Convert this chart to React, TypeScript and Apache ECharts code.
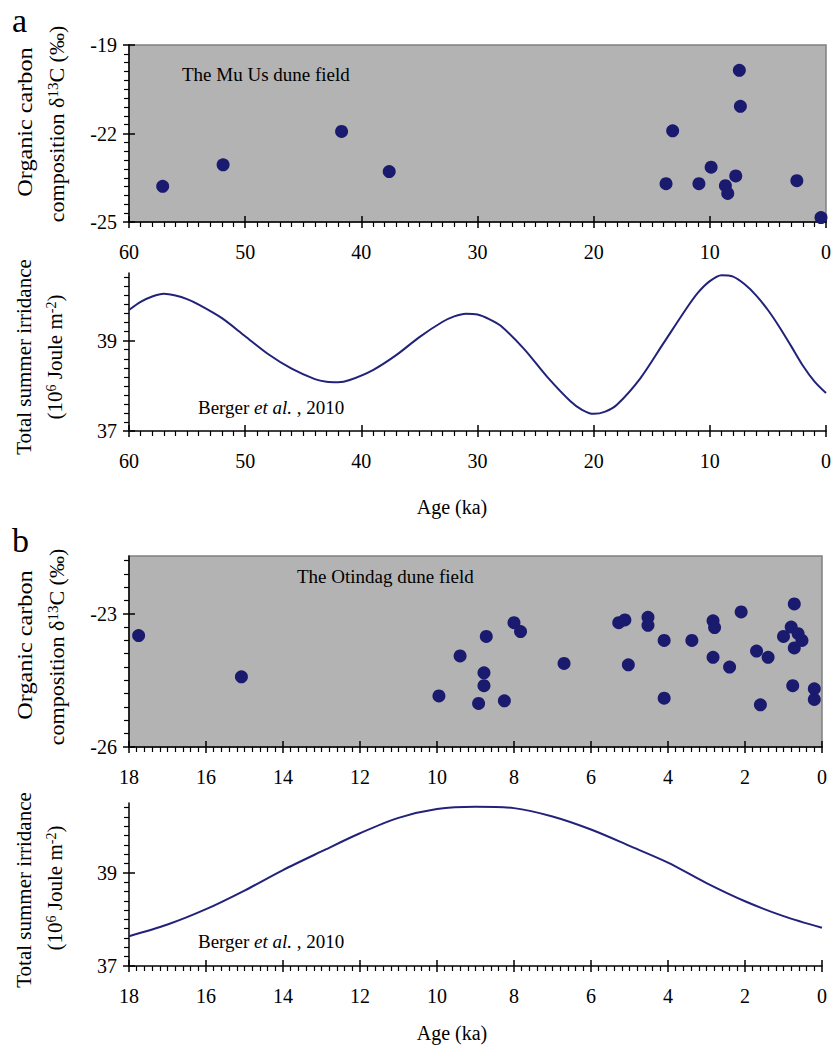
import React, { useEffect, useRef } from "react";
import * as echarts from "echarts";

// ---------- data ----------
// Panel a: Mu Us dune field, organic carbon d13C (‰) vs age (ka)
const muUsAge = [57.1, 51.9, 41.7, 37.6, 13.77, 13.2, 10.94, 9.89, 8.66, 8.46, 7.77, 7.46, 7.37, 2.51, 0.43];
const muUsD13C = [-23.79, -23.06, -21.93, -23.29, -23.7, -21.91, -23.7, -23.14, -23.77, -24.03, -23.44, -19.86, -21.08, -23.6, -24.85];

// Panel a: total summer irradiance (Berger et al., 2010), 0-60 ka
const irrAgeA = [60, 59, 58, 57, 56, 55, 54, 52, 50, 48, 46, 44, 43, 42, 41, 39, 37, 35, 33, 32, 31, 30, 29, 28, 26, 24, 22, 21, 20, 19, 18, 16, 14, 12, 11, 10, 9, 8, 7, 6, 5, 4, 3, 2, 1, 0];
const irrValA = [39.68, 39.86, 39.98, 40.04, 40.0, 39.92, 39.8, 39.5, 39.1, 38.7, 38.38, 38.15, 38.09, 38.08, 38.13, 38.35, 38.68, 39.08, 39.42, 39.54, 39.6, 39.58, 39.48, 39.33, 38.82, 38.2, 37.66, 37.47, 37.38, 37.43, 37.58, 38.16, 38.94, 39.72, 40.07, 40.32, 40.45, 40.42, 40.25, 40.0, 39.68, 39.3, 38.88, 38.45, 38.1, 37.84];

// Panel b: Otindag dune field, organic carbon d13C (‰) vs age (ka)
const otindagAge = [17.75, 15.08, 9.95, 9.4, 8.72, 8.78, 8.78, 8.92, 8.25, 8.0, 7.83, 6.7, 5.28, 5.12, 5.03, 4.52, 4.52, 4.1, 4.1, 3.38, 2.83, 2.79, 2.83, 2.4, 2.1, 1.7, 1.4, 1.6, 1.0, 0.8, 0.72, 0.72, 0.62, 0.52, 0.76, 0.2, 0.2];
const otindagD13C = [-23.49, -24.42, -24.85, -23.95, -23.51, -24.33, -24.62, -25.02, -24.96, -23.2, -23.4, -24.12, -23.2, -23.14, -24.15, -23.08, -23.26, -23.6, -24.9, -23.6, -23.16, -23.31, -23.98, -24.2, -22.96, -23.84, -23.98, -25.05, -23.51, -23.3, -22.78, -23.77, -23.45, -23.6, -24.62, -24.69, -24.93];

// Panel b: total summer irradiance (Berger et al., 2010), 0-18 ka
const irrAgeB = [18, 17, 16, 15, 14, 13, 12, 11, 10, 9, 8, 7, 6, 5, 4, 3, 2, 1, 0];
const irrValB = [37.64, 37.89, 38.22, 38.62, 39.06, 39.46, 39.85, 40.18, 40.37, 40.42, 40.39, 40.21, 39.93, 39.58, 39.22, 38.78, 38.39, 38.07, 37.82];

// axis tick labels
const yTicksScatterA = [-25, -22, -19];
const yTicksScatterB = [-26, -23];
const yTicksIrr = [37, 39];

// ---------- styling ----------
const FONT = "Liberation Serif";
const DOT = "#1a1a6e";
const LINE = "#22227a";
const BLACK = "#000";

function minorList(min: number, max: number, step: number, majors: number[]) {
  const out: number[] = [];
  const n = Math.floor((max - min) / step + 1e-6);
  for (let k = 0; k <= n; k++) {
    const v = Math.round((min + k * step) * 1000) / 1000;
    if (!majors.some((m) => Math.abs(m - v) < 1e-6)) out.push(v);
  }
  return out;
}

function majorList(min: number, max: number, step: number) {
  const out: number[] = [];
  for (let v = min; v <= max + 1e-6; v += step) out.push(Math.round(v * 1000) / 1000);
  return out;
}

function xAxes(gi: number, max: number, interval: number, minorStep: number) {
  const majors = majorList(0, max, interval);
  const minors = minorList(0, max, minorStep, majors);
  const common = {
    gridIndex: gi,
    type: "value" as const,
    position: "bottom" as const,
    inverse: true,
    min: 0,
    max,
    interval,
    splitLine: { show: false },
  };
  return [
    {
      ...common,
      axisLine: { show: true, onZero: false, lineStyle: { color: BLACK, width: 1.5 } },
      axisTick: { show: true, inside: false, length: 6, customValues: majors, lineStyle: { color: BLACK, width: 1.5 } },
      axisLabel: { show: true, margin: 20, customValues: majors, color: BLACK, fontFamily: FONT, fontSize: 20 },
    },
    {
      ...common,
      axisLine: { show: false, onZero: false },
      axisTick: { show: true, inside: true, length: 6, customValues: majors, lineStyle: { color: BLACK, width: 1.5 } },
      axisLabel: { show: false },
    },
    {
      ...common,
      axisLine: { show: false, onZero: false },
      axisTick: { show: true, inside: false, length: 5, customValues: minors, lineStyle: { color: BLACK, width: 1.2 } },
      axisLabel: { show: false },
    },
  ];
}

function yAxes(gi: number, min: number, max: number, majors: number[], minorStep: number) {
  const common = {
    gridIndex: gi,
    type: "value" as const,
    position: "left" as const,
    min,
    max,
    splitLine: { show: false },
  };
  const minors = minorList(min, max, minorStep, majors);
  return [
    {
      ...common,
      axisLine: { show: true, onZero: false, lineStyle: { color: BLACK, width: 1.5 } },
      axisTick: { show: true, inside: false, length: 6, customValues: majors, lineStyle: { color: BLACK, width: 1.5 } },
      axisLabel: { show: true, margin: 12, customValues: majors, color: BLACK, fontFamily: FONT, fontSize: 20 },
    },
    {
      ...common,
      axisLine: { show: false, onZero: false },
      axisTick: { show: true, inside: true, length: 6, customValues: majors, lineStyle: { color: BLACK, width: 1.5 } },
      axisLabel: { show: false },
    },
    {
      ...common,
      axisLine: { show: false, onZero: false },
      axisTick: { show: true, inside: false, length: 5, customValues: minors, lineStyle: { color: BLACK, width: 1.2 } },
      axisLabel: { show: false },
    },
  ];
}

function vText(x: number, y: number, text: string, fontSize: number, rich: any, scaleX = 1) {
  return {
    type: "text",
    x,
    y,
    rotation: Math.PI / 2,
    scaleX,
    style: {
      text,
      fill: BLACK,
      fontFamily: FONT,
      fontSize,
      align: "center",
      verticalAlign: "middle",
      rich,
    },
  };
}

function hText(x: number, y: number, text: string, fontSize: number, align = "left", rich?: any) {
  const style: any = {
    text,
    fill: BLACK,
    fontFamily: FONT,
    fontSize,
    align,
    verticalAlign: "middle",
  };
  if (rich) style.rich = rich;
  return { type: "text", x, y, style };
}

const richOrg = {
  n: { fontFamily: FONT, fontSize: 22, lineHeight: 26, verticalAlign: "middle" },
  sup: { fontFamily: FONT, fontSize: 15, lineHeight: 15, verticalAlign: "top" },
};
const richIrr = {
  n: { fontFamily: FONT, fontSize: 21, lineHeight: 26, verticalAlign: "middle" },
  sup: { fontFamily: FONT, fontSize: 14, lineHeight: 14, verticalAlign: "top" },
};
const richBerger = {
  n: { fontFamily: FONT, fontSize: 19 },
  i: { fontFamily: FONT, fontSize: 19, fontStyle: "italic" },
};

export default function App() {
  const ref = useRef<HTMLDivElement>(null);

  useEffect(() => {
    if (!ref.current) return;
    const chart = echarts.init(ref.current, undefined, { renderer: "svg" });

    const grids = [
      { left: 129, right: 5, top: 45, height: 177, show: true, backgroundColor: "#b3b3b3", borderColor: "#808080", borderWidth: 1.5 },
      { left: 129, right: 5, top: 273, height: 158, show: false },
      { left: 129, right: 12, top: 556, height: 191, show: true, backgroundColor: "#b3b3b3", borderColor: "#808080", borderWidth: 1.5 },
      { left: 129, right: 12, top: 803, height: 163, show: false },
    ];

    const xAxis = [
      ...xAxes(0, 60, 10, 1),
      ...xAxes(1, 60, 10, 1),
      ...xAxes(2, 18, 2, 0.2),
      ...xAxes(3, 18, 2, 0.2),
    ];
    const yAxis = [
      ...yAxes(0, -25, -19, yTicksScatterA, 0.3),
      ...yAxes(1, 37, 40.5, yTicksIrr, 0.2),
      ...yAxes(2, -26, -21.7, yTicksScatterB, 0.3),
      ...yAxes(3, 37, 40.5, yTicksIrr, 0.2),
    ];

    const series = [
      {
        type: "scatter",
        xAxisIndex: 0,
        yAxisIndex: 0,
        symbolSize: 13,
        itemStyle: { color: DOT, opacity: 1 },
        data: muUsAge.map((a, i) => [a, muUsD13C[i]]),
      },
      {
        type: "line",
        xAxisIndex: 3,
        yAxisIndex: 3,
        showSymbol: false,
        smooth: 0.3,
        lineStyle: { color: LINE, width: 2 },
        data: irrAgeA.map((a, i) => [a, irrValA[i]]),
      },
      {
        type: "scatter",
        xAxisIndex: 6,
        yAxisIndex: 6,
        symbolSize: 13,
        itemStyle: { color: DOT, opacity: 1 },
        data: otindagAge.map((a, i) => [a, otindagD13C[i]]),
      },
      {
        type: "line",
        xAxisIndex: 9,
        yAxisIndex: 9,
        showSymbol: false,
        smooth: 0.3,
        lineStyle: { color: LINE, width: 2 },
        data: irrAgeB.map((a, i) => [a, irrValB[i]]),
      },
    ];

    const graphic = [
      hText(12, 20, "a", 34),
      hText(12, 540, "b", 34),
      // y-axis titles
      vText(24, 122, "Organic carbon", 22, richOrg, 1.1),
      vText(56, 124, "composition δ{sup|13}C (‰)", 22, richOrg),
      vText(24, 357, "Total summer irridance", 21, richIrr, 1.0),
      vText(55, 357, "(10{sup|6} Joule m{sup|-2})", 21, richIrr),
      vText(24, 645, "Organic carbon", 22, richOrg, 1.1),
      vText(56, 647, "composition δ{sup|13}C (‰)", 22, richOrg),
      vText(24, 890, "Total summer irridance", 21, richIrr, 1.0),
      vText(55, 888, "(10{sup|6} Joule m{sup|-2})", 21, richIrr),
      // annotations
      hText(182, 74, "The Mu Us dune field", 19),
      hText(198, 407, "{n|Berger }{i|et al.}{n| , 2010}", 19, "left", richBerger),
      hText(297, 576, "The Otindag dune field", 19),
      hText(198, 941, "{n|Berger }{i|et al.}{n| , 2010}", 19, "left", richBerger),
      // x-axis titles
      hText(452, 507, "Age (ka)", 20, "center"),
      hText(452, 1033, "Age (ka)", 20, "center"),
    ];

    chart.setOption({
      animation: false,
      backgroundColor: "#fff",
      textStyle: { fontFamily: FONT },
      grid: grids,
      xAxis,
      yAxis,
      series,
      graphic,
    });

    return () => chart.dispose();
  }, []);

  return (
    <div
      ref={ref}
      style={{ position: "fixed", left: 0, top: 0, width: 834, height: 1046, background: "#fff" }}
    />
  );
}
